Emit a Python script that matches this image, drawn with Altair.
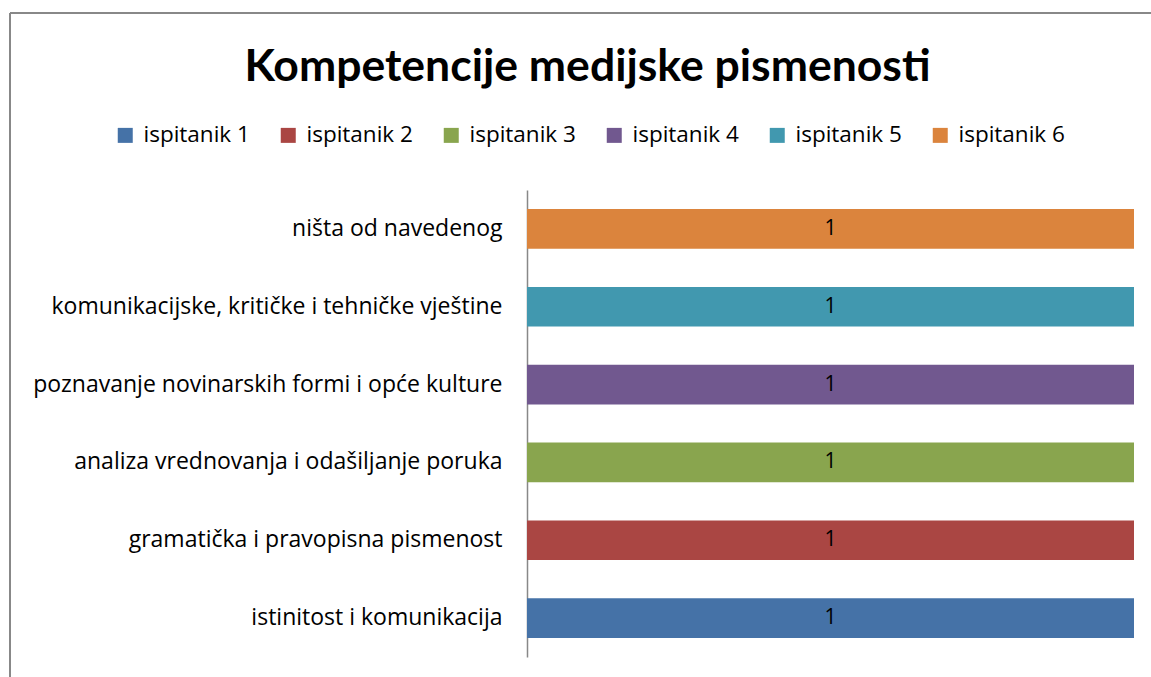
import altair as alt
import pandas as pd

categories = [
    "istinitost i komunikacija",
    "gramatička i pravopisna pismenost",
    "analiza vrednovanja i odašiljanje poruka",
    "poznavanje novinarskih formi i opće kulture",
    "komunikacijske, kritičke i tehničke vještine",
    "ništa od navedenog",
]
series = ["ispitanik 1", "ispitanik 2", "ispitanik 3", "ispitanik 4", "ispitanik 5", "ispitanik 6"]
values = [1, 1, 1, 1, 1, 1]
colors = ["#4572A7", "#AA4643", "#89A54E", "#71588F", "#4198AF", "#DB843D"]

df = pd.DataFrame({"category": categories, "series": series, "value": values})
order_top_down = list(reversed(categories))

FONT = "Open Sans"

y_enc = alt.Y(
    "category:N",
    sort=order_top_down,
    scale=alt.Scale(paddingInner=0.49, paddingOuter=0.245),
    axis=alt.Axis(
        title=None, ticks=False, labelPadding=25, labelFontSize=23,
        labelFont=FONT, labelColor="#000000", domainColor="#888888",
        domainWidth=1.5, labelLimit=600,
    ),
)
x_scale = alt.Scale(domain=[0, 1], nice=False)

bars = alt.Chart(df).mark_bar().encode(
    y=y_enc,
    x=alt.X("value:Q", scale=x_scale, axis=None),
    color=alt.Color(
        "series:N",
        scale=alt.Scale(domain=series, range=colors),
        legend=alt.Legend(
            title=None, orient="none", legendX=-413, legendY=-66,
            direction="horizontal", columns=6, symbolType="square",
            symbolSize=225, symbolStrokeWidth=0, labelFontSize=22.5,
            labelFont=FONT, labelColor="#000000", columnPadding=27,
            labelOffset=7,
        ),
    ),
)

labels = alt.Chart(df).transform_calculate(mid="datum.value / 2").mark_text(
    fontSize=21, font=FONT, color="#000000", baseline="middle"
).encode(
    y=alt.Y("category:N", sort=order_top_down),
    x=alt.X("mid:Q", scale=x_scale),
    text=alt.Text("value:Q"),
)

frame_df = pd.DataFrame({"k": ["a"]})
left_line = alt.Chart(frame_df).mark_rule(color="#888888", strokeWidth=2, clip=False).encode(
    x=alt.value(-517), y=alt.value(-177), y2=alt.value(500)
)
top_line = alt.Chart(frame_df).mark_rule(color="#888888", strokeWidth=2, clip=False).encode(
    x=alt.value(-517), x2=alt.value(640), y=alt.value(-177)
)

chart = alt.layer(bars, labels, left_line, top_line).properties(
    width=607,
    height=467,
    title=alt.TitleParams(
        "Kompetencije medijske pismenosti", font="Lato", fontSize=44.5,
        fontWeight="bold", color="#000000", anchor="middle", dx=-243,
        offset=0, dy=78,
    ),
    autosize=alt.AutoSizeParams(type="none"),
    padding={"left": 527, "top": 190, "right": 17, "bottom": 20},
).configure_view(stroke=None)

chart.save("out.html", embed_options={"renderer": "svg", "actions": False})
